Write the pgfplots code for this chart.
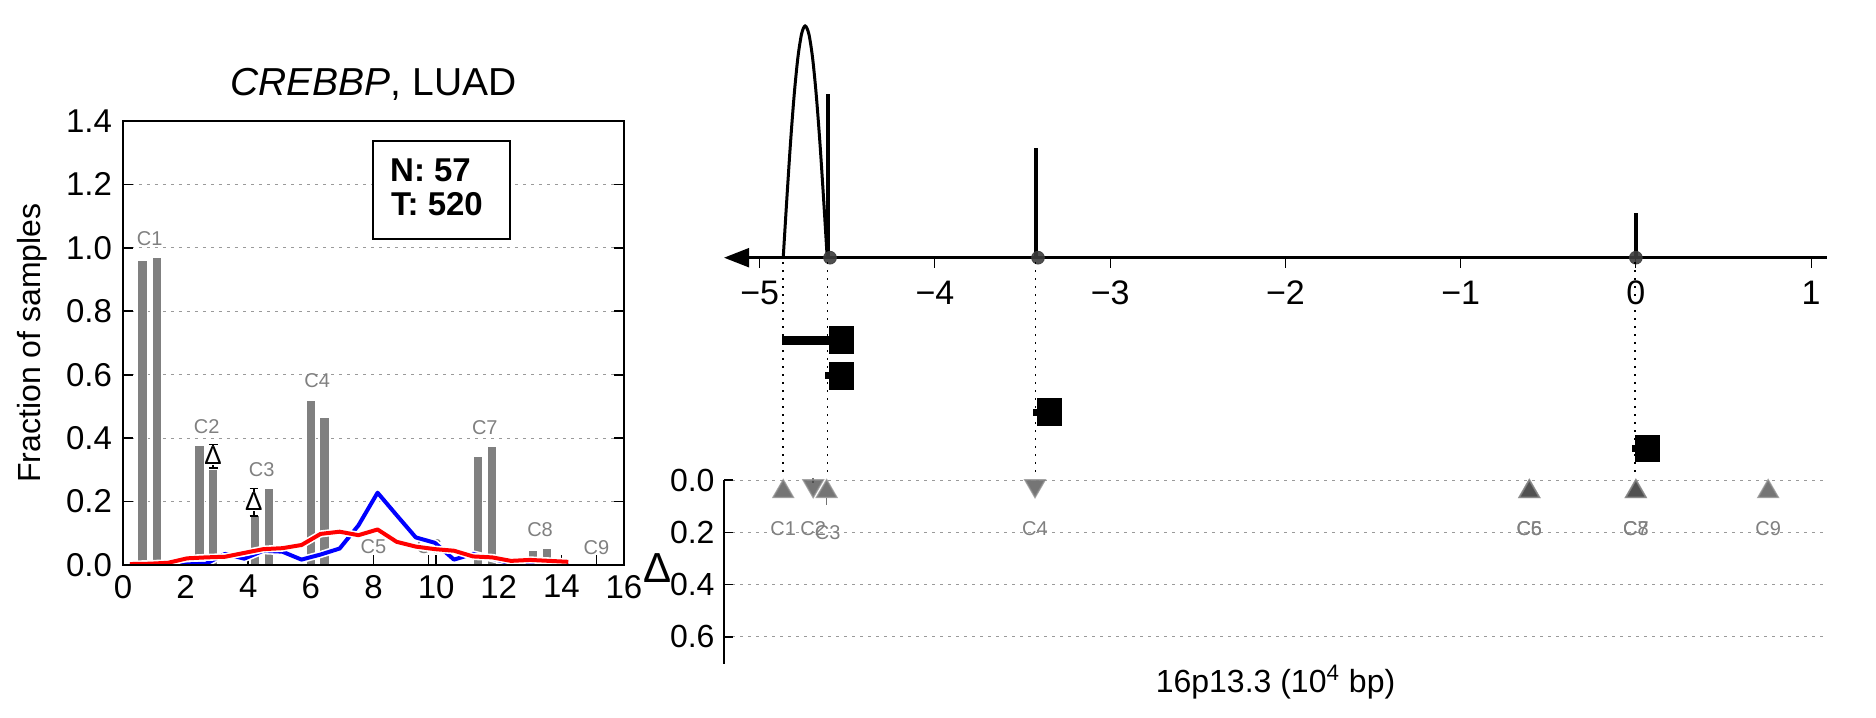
\documentclass[border=0pt]{standalone}
\usepackage{fontspec}
\setmainfont{Liberation Sans}
\usepackage{pgfplots}
\usepackage{pgfplotstable}
\pgfplotsset{compat=1.18}
\usetikzlibrary{arrows.meta}

\definecolor{bargray}{HTML}{808080}
\definecolor{lblgray}{HTML}{808080}
\definecolor{gridgray}{HTML}{9A9A9A}
\definecolor{dotgray}{HTML}{3C3C3C}

% density curves of the left panel
\pgfplotstableread{
x     blue  red
0.22  0.000 0.003
0.83  0.000 0.004
1.44  0.000 0.007
2.05  0.002 0.021
2.65  0.004 0.024
3.26  0.035 0.026
3.87  0.020 0.038
4.48  0.045 0.050
5.09  0.042 0.053
5.70  0.017 0.063
6.31  0.033 0.098
6.92  0.052 0.105
7.52  0.125 0.094
8.13  0.228 0.112
8.74  0.157 0.073
9.35  0.087 0.058
9.96  0.070 0.050
10.57 0.017 0.045
11.18 0.035 0.027
11.79 0.020 0.024
12.39 0.005 0.013
13.00 0.002 0.016
13.61 0.000 0.013
14.22 0.000 0.010
}\curves

\tikzset{
  clab/.style={text=lblgray, font=\fontsize{10}{12}\selectfont, inner sep=0pt},
  dlab/.style={fill=white, inner sep=0.3pt, font=\fontsize{13}{14}\selectfont},
}

\begin{document}
\begin{tikzpicture}[font=\fontsize{16}{19}\selectfont]
\path[use as bounding box] (0,0) rectangle (938pt,359pt);

%% ---------------- left panel ----------------
\begin{axis}[
  at={(61.5pt,76.5pt)}, anchor=south west,
  width=250.5pt, height=222pt, scale only axis,
  xmin=0, xmax=16, ymin=0, ymax=1.4,
  xtick={0,2,4,6,8,10,12,14,16},
  ytick={0,0.2,0.4,0.6,0.8,1.0,1.2,1.4},
  xtick pos=left,
  tick align=inside, major tick length=5pt,
  tick style={black, line width=0.8pt},
  axis line style={line width=1.2pt},
  ymajorgrids,
  grid style={gridgray, dash pattern=on 1.5pt off 2.5pt, line width=0.5pt},
  /pgf/number format/assume math mode=true,
  tick label style={font=\fontsize{16.5}{19}\selectfont},
  yticklabel style={xshift=-2pt, /pgf/number format/.cd, fixed, fixed zerofill, precision=1},
  xticklabel style={yshift=-1.5pt},
  title={\textit{CREBBP}, LUAD},
  title style={font=\fontsize{19.5}{22}\selectfont, at={(axis description cs:0.5,1.0293)}, anchor=base},
  ylabel={Fraction of samples},
  ylabel style={at={(axis description cs:-0.1816,0.5)}, anchor=center},
]
\addplot[ybar, bar width=0.31, fill=bargray, draw=white, line width=0.6pt] coordinates {
  (0.63,0.959) (1.08,0.969) (2.44,0.378) (2.87,0.302) (4.22,0.155) (4.66,0.240)
  (6.00,0.520) (6.44,0.466) (11.33,0.344) (11.78,0.374) (13.09,0.045) (13.54,0.052)};
\addplot[ycomb, black, line width=0.6pt] coordinates {(8.0,0.03) (9.75,0.03) (15.13,0.03)};

% cluster labels
\node[clab] at (axis cs:0.855,1.028) {C1};
\node[clab] at (axis cs:2.67,0.437) {C2};
\node[clab] at (axis cs:4.43,0.300) {C3};
\node[clab] at (axis cs:6.20,0.581) {C4};
\node[clab] at (axis cs:8.00,0.058) {C5};
\node[clab] at (axis cs:9.78,0.058) {C6};
\node[clab] at (axis cs:11.555,0.432) {C7};
\node[clab] at (axis cs:13.32,0.110) {C8};
\node[clab] at (axis cs:15.12,0.055) {C9};

% delta markers between paired bars
\addplot[black, line width=0.8pt] coordinates {(2.74,0.380) (3.02,0.380)};
\addplot[black, line width=0.8pt] coordinates {(2.88,0.380) (2.88,0.305)};
\addplot[black, line width=0.8pt] coordinates {(2.74,0.305) (3.02,0.305)};
\addplot[black, line width=0.8pt] coordinates {(4.04,0.241) (4.32,0.241)};
\addplot[black, line width=0.8pt] coordinates {(4.18,0.241) (4.18,0.155)};
\addplot[black, line width=0.8pt] coordinates {(4.04,0.155) (4.32,0.155)};
\node[dlab] at (axis cs:2.88,0.346) {Δ};
\node[dlab] at (axis cs:4.18,0.199) {Δ};

% curves with white outline
\addplot[white, line width=3.6pt, line join=round] table[x=x, y=blue] {\curves};
\addplot[blue, line width=2pt, line join=round] table[x=x, y=blue] {\curves};
\addplot[white, line width=3.6pt, line join=round] table[x=x, y=red] {\curves};
\addplot[red, line width=2pt, line join=round] table[x=x, y=red] {\curves};
\draw[line width=1.2pt] (rel axis cs:0,0) -- (rel axis cs:1,0);

% N / T box
\draw[line width=1.2pt, fill=white] (axis cs:7.98,1.028) rectangle (axis cs:12.36,1.337);
\node[anchor=base west, inner sep=0pt, font=\fontsize{16.5}{19}\selectfont\bfseries] at (axis cs:8.52,1.208) {N: 57};
\node[anchor=base west, inner sep=0pt, font=\fontsize{16.5}{19}\selectfont\bfseries] at (axis cs:8.55,1.103) {T: 520};
\end{axis}

%% ---------------- right panel, top: positions ----------------
\begin{axis}[
  at={(362pt,230.15pt)}, anchor=south west,
  width=551.5pt, height=118.85pt, scale only axis,
  xmin=-5.204, xmax=1.091, ymin=0, ymax=1,
  axis y line=none, axis x line*=bottom,
  x axis line style={{Triangle[length=12.6pt,width=9.5pt]}-, line width=1.2pt},
  xtick={-5,-4,-3,-2,-1,0,1},
  xticklabels={−5,−4,−3,−2,−1,0,1},
  xtick pos=left,
  tick align=outside, major tick length=5pt,
  xtick style={black, line width=0.5pt},
  tick label style={font=\fontsize{17}{19}\selectfont},
  xticklabel style={yshift=-3pt},
  clip=false,
]
\addplot[black, line width=1.5pt, smooth] coordinates {
  (-4.866,0) (-4.845,0.252) (-4.824,0.488) (-4.803,0.689) (-4.782,0.844)
  (-4.761,0.942) (-4.741,0.975) (-4.720,0.942) (-4.699,0.844) (-4.678,0.689)
  (-4.657,0.488) (-4.636,0.252) (-4.615,0)};
\addplot[ycomb, black, line width=2.1pt] coordinates {(-4.61,0.689) (-3.423,0.461) (0,0.188)};
\addplot[only marks, mark=*, mark size=3.2pt, mark options={fill=dotgray, draw=dotgray, opacity=0.9}]
  coordinates {(-4.599,0) (-3.412,0) (0,0)};
\end{axis}

%% ---------------- right panel, middle: intervals (y in pixel rows) ----------------
\begin{axis}[
  at={(362pt,119pt)}, anchor=south west,
  width=551.5pt, height=111.15pt, scale only axis,
  xmin=-5.204, xmax=1.091, ymin=257.7, ymax=480, y dir=reverse,
  hide axis, clip=false,
]
\addplot[black, line width=0.8pt, dash pattern=on 0.8pt off 3.2pt] coordinates {(-4.866,262) (-4.866,478)};
\addplot[black, line width=0.8pt, dash pattern=on 0.8pt off 3.2pt] coordinates {(-4.614,262) (-4.614,478)};
\addplot[black, line width=0.8pt, dash pattern=on 0.8pt off 3.2pt] coordinates {(-3.426,262) (-3.426,478)};
\addplot[black, line width=0.8pt, dash pattern=on 0.8pt off 3.2pt] coordinates {(-0.005,262) (-0.005,478)};
\addplot[black, line width=4.5pt] coordinates {(-4.872,340) (-4.55,340)};
\addplot[black, line width=3.5pt] coordinates {(-4.625,375.8) (-4.55,375.8)};
\addplot[black, line width=3.5pt] coordinates {(-3.44,412) (-3.36,412)};
\addplot[black, line width=3.5pt] coordinates {(-0.02,448.5) (0.05,448.5)};
\addplot[only marks, mark=square*, mark size=6pt, mark options={black, yscale=1.1}]
  coordinates {(-4.534,340) (-4.534,375.8) (-3.348,412) (0.067,448.5)};
\end{axis}

%% ---------------- right panel, bottom: delta ----------------
\begin{axis}[
  at={(362pt,27pt)}, anchor=south west,
  width=551.5pt, height=92pt, scale only axis,
  xmin=-5.204, xmax=1.091, ymin=0, ymax=0.7036, y dir=reverse,
  axis y line*=left, axis x line=none,
  ytick={0,0.2,0.4,0.6}, ytick pos=left,
  tick align=inside, major tick length=4.5pt,
  ytick style={black, line width=0.8pt},
  y axis line style={line width=1.2pt},
  ymajorgrids,
  grid style={gridgray, dash pattern=on 1.5pt off 2.5pt, line width=0.5pt},
  /pgf/number format/assume math mode=true,
  yticklabel style={xshift=-1.2pt, /pgf/number format/.cd, fixed, fixed zerofill, precision=1},
  ylabel={Δ},
  ylabel style={rotate=-90, font=\fontsize{21}{24}\selectfont, at={(axis description cs:-0.0607,0.52)}, anchor=center},
  clip=false,
]
\addplot[only marks, mark=triangle*, mark size=5.8pt,
  mark options={rotate=180, fill=black!73, draw=black!45, fill opacity=0.74, draw opacity=0.74, line width=0.8pt}]
  coordinates {(-4.695,0.022) (-3.429,0.022)};
\addplot[only marks, mark=triangle*, mark size=5.8pt,
  mark options={fill=black!73, draw=black!45, fill opacity=0.74, draw opacity=0.74, line width=0.8pt}]
  coordinates {(-4.866,0.044) (-4.618,0.044) (-0.608,0.044) (-0.608,0.044) (0,0.044) (0,0.044) (0.755,0.044)};
\addplot[black!55, line width=0.8pt] coordinates {(-4.618,0.07) (-4.618,0.095)};
\addplot[black!55, line width=0.8pt] coordinates {(-4.695,-0.008) (-4.695,0.012)};
\node[clab] at (axis cs:-4.866,0.185) {C1};
\node[clab] at (axis cs:-4.695,0.185) {C2};
\node[clab] at (axis cs:-4.612,0.200) {C3};
\node[clab] at (axis cs:-3.429,0.185) {C4};
\node[clab] at (axis cs:-0.608,0.185) {C5};
\node[clab] at (axis cs:-0.608,0.185) {C6};
\node[clab] at (axis cs:0,0.185) {C7};
\node[clab] at (axis cs:0,0.185) {C8};
\node[clab] at (axis cs:0.755,0.185) {C9};
\node[anchor=base, inner sep=0pt] at ([yshift=-14.5pt]axis description cs:0.5,0) {16p13.3 (10\textsuperscript{4} bp)};
\end{axis}
\end{tikzpicture}
\end{document}
